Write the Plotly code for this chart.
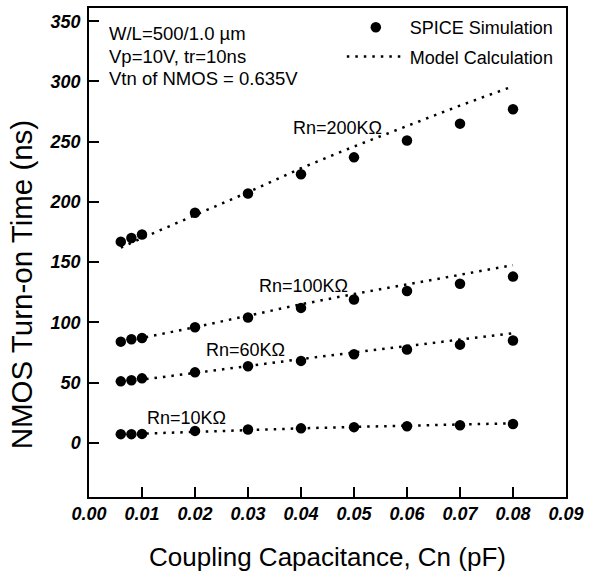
import plotly.graph_objects as go

cn = [0.006, 0.008, 0.010, 0.020, 0.030, 0.040, 0.050, 0.060, 0.070, 0.080]

spice_200k = [167, 170, 173, 191, 207, 223, 237, 251, 265, 277]
model_200k = [162, 166, 170, 189, 208, 228, 246, 263, 280, 296]
spice_100k = [84, 86, 87, 96, 104, 112, 119, 126, 132, 138]
model_100k = [83, 85, 87, 96, 105.5, 115, 123.5, 131.5, 139.5, 147.5]
spice_60k = [51, 52, 53.5, 58.5, 63.5, 68, 73.5, 77.5, 81.5, 85]
model_60k = [50, 51.5, 52.5, 58, 64, 69.5, 75, 80.5, 86, 91]
spice_10k = [7.2, 7.2, 7.4, 9.9, 11, 12, 13, 13.8, 14.6, 15.6]
model_10k = [7, 7.3, 7.6, 9.4, 10.8, 12, 13.2, 14.3, 15.2, 16.2]

labels = ["Rn=200KΩ", "Rn=100KΩ", "Rn=60KΩ", "Rn=10KΩ"]
label_x = [0.0469, 0.0405, 0.0296, 0.0184]
label_y = [261, 130, 77, 21]

info_lines = ["W/L=500/1.0 µm", "Vp=10V, tr=10ns", "Vtn of NMOS = 0.635V"]

x_ticks = [0.00, 0.01, 0.02, 0.03, 0.04, 0.05, 0.06, 0.07, 0.08, 0.09]
y_ticks = [0, 50, 100, 150, 200, 250, 300, 350]

FONT = "Liberation Sans, Arial, sans-serif"
fig = go.Figure()

model_sets = [model_200k, model_100k, model_60k, model_10k]
spice_sets = [spice_200k, spice_100k, spice_60k, spice_10k]

for i, s in enumerate(spice_sets):
    fig.add_trace(go.Scatter(
        x=cn, y=s, mode="markers",
        marker=dict(color="black", size=10.5),
        name="SPICE Simulation", showlegend=(i == 0),
        legendgroup="spice"))
for i, m in enumerate(model_sets):
    fig.add_trace(go.Scatter(
        x=cn, y=m, mode="lines",
        line=dict(color="black", width=2.5, dash="2.5px,6px"),
        name="Model Calculation", showlegend=(i == 0),
        legendgroup="model"))

for t, lx, ly in zip(labels, label_x, label_y):
    fig.add_annotation(x=lx, y=ly, text=t, showarrow=False, xref="x", yref="y",
                       font=dict(family=FONT, size=18, color="black"))

for k, t in enumerate(info_lines):
    fig.add_annotation(x=0.0375, y=1 - (32 + 22.5 * k - 6) / 491, text=t,
                       showarrow=False, xref="paper", yref="paper",
                       xanchor="left", yanchor="middle",
                       font=dict(family=FONT, size=18.5, color="black"))

# axis titles
fig.add_annotation(x=0.5, y=(497 - 557) / 491, xref="paper", yref="paper",
                   text="Coupling Capacitance, Cn (pF)", showarrow=False,
                   xanchor="center", yanchor="middle",
                   font=dict(family=FONT, size=26, color="black"))
fig.add_annotation(x=(21 - 89) / 480, y=(497 - 284) / 491, xref="paper", yref="paper",
                   text="NMOS Turn-on Time (ns)", showarrow=False, textangle=-90,
                   xanchor="center", yanchor="middle",
                   font=dict(family=FONT, size=29.5, color="black"))

fig.update_layout(
    width=590, height=577,
    margin=dict(l=89, r=21, t=6, b=80),
    paper_bgcolor="white", plot_bgcolor="white",
    font=dict(family=FONT, color="black"),
    legend=dict(x=0.53, y=0.998, xanchor="left", yanchor="top",
                bgcolor="rgba(0,0,0,0)", font=dict(family=FONT, size=18),
                traceorder="grouped", tracegroupgap=3, itemwidth=58),
)
fig.update_xaxes(
    range=[0, 0.09], tickvals=x_ticks, ticktext=[f"{v:.2f}" for v in x_ticks],
    ticks="inside", ticklen=10, tickwidth=1.5, tickcolor="black",
    showline=True, linecolor="black", linewidth=1.5, mirror=True,
    showgrid=False, zeroline=False,
    tickfont=dict(family=FONT, size=18, weight="bold", style="italic"),
)
fig.update_yaxes(
    range=[-45, 361], tickvals=y_ticks,
    ticks="inside", ticklen=10, tickwidth=1.5, tickcolor="black",
    showline=True, linecolor="black", linewidth=1.5, mirror=True,
    showgrid=False, zeroline=False, ticklabelstandoff=3,
    tickfont=dict(family=FONT, size=18, weight="bold", style="italic"),
)

fig.write_html("out.html")
